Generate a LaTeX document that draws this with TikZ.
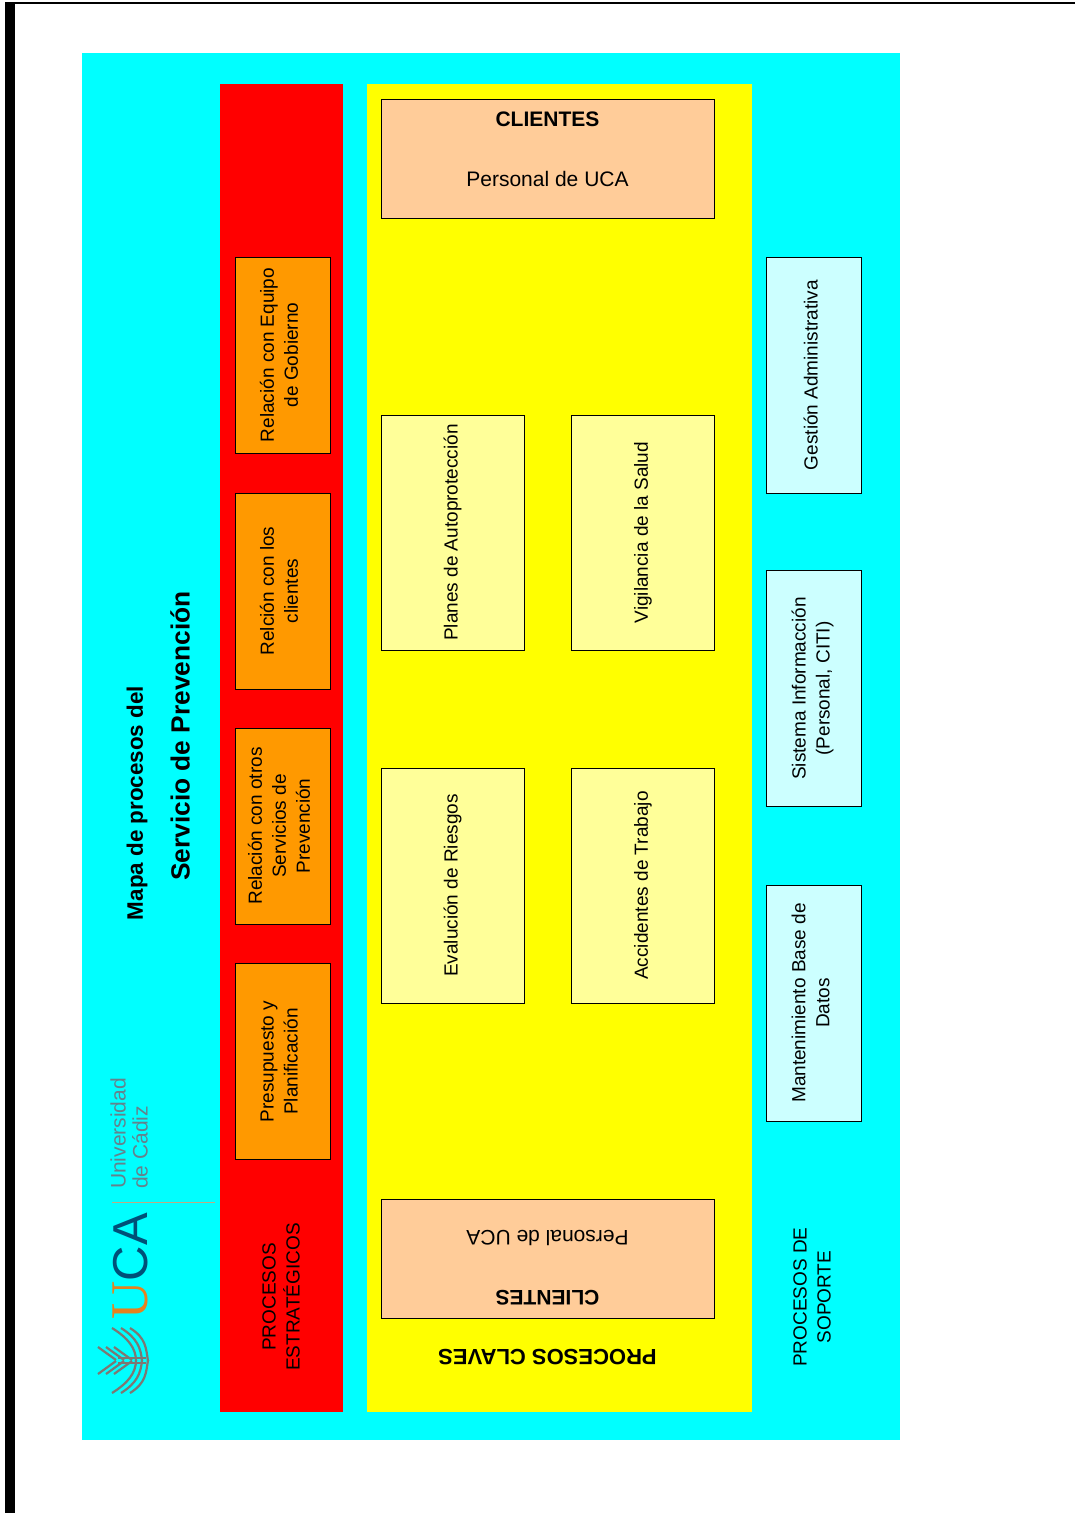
\documentclass[tikz,border=0pt]{standalone}
\usepackage{fontspec}
\setmainfont{Liberation Sans}
\newfontfamily\logoserif{Liberation Serif}
\definecolor{zonecyan}{RGB}{0,255,255}
\definecolor{zonered}{RGB}{255,0,0}
\definecolor{zoneyellow}{RGB}{255,255,0}
\definecolor{boxorange}{RGB}{255,153,0}
\definecolor{boxpeach}{RGB}{255,204,153}
\definecolor{boxyellow}{RGB}{255,255,153}
\definecolor{boxcyan}{RGB}{204,255,255}
\definecolor{logogray}{RGB}{125,120,115}
\definecolor{logoorange}{RGB}{230,130,30}
\definecolor{logoblue}{RGB}{0,80,120}
\definecolor{logotan}{RGB}{190,170,130}
\definecolor{logotext}{RGB}{100,130,140}
\tikzset{>=stealth}
\tikzset{
  procbox/.style={draw=black,line width=1pt,inner sep=0pt,align=center,font=\fontsize{19}{24}\selectfont},
  strategicbox/.style={procbox,fill=boxorange,rotate=90,minimum width=196pt,minimum height=95pt,text depth=7pt},
  keybox/.style={procbox,fill=boxyellow,rotate=90,minimum width=235pt,minimum height=143pt},
  supportbox/.style={procbox,fill=boxcyan,rotate=90,minimum width=236pt,minimum height=95pt,text depth=6pt},
  clientbox/.style={procbox,fill=boxpeach,minimum width=333pt,minimum height=119pt,text depth=18pt,font=\fontsize{21}{60}\selectfont},
  zonelabel/.style={align=center,inner sep=0pt,font=\fontsize{19}{24}\selectfont},
  logoline/.style={draw=logogray,line width=2.2pt},
}
\begin{document}
\begin{tikzpicture}[x=1pt,y=-1pt]
    \useasboundingbox (0,0) rectangle (1075,1513);
    \fill[white] (0,0) rectangle (1075,1513);
    % page edge
    \fill[black] (5,3) rectangle (15,1513);
    \draw[line width=1.4pt] (5,3)--(1075,3);
    % zones
    \fill[zonecyan] (82,53) rectangle (900,1440);
    \fill[zonered] (220,84) rectangle (343,1412);
    \fill[zoneyellow] (367,84) rectangle (752,1412);
    % title
    \node (maptitle) at (137,803) [rotate=90,inner sep=0pt,font=\fontsize{22.4}{24}\selectfont\bfseries] {Mapa de procesos del};
    \node (servicetitle) at (180,736) [rotate=90,inner sep=0pt,font=\fontsize{26.3}{28}\selectfont\bfseries] {Servicio de Prevención};
    % strategic
    \node (strategiclabel) at (281,1297) [zonelabel,rotate=90] {PROCESOS\\ESTRATÉGICOS};
    \node (gobierno) at (282.5,355) [strategicbox] {Relación con Equipo\\de Gobierno};
    \node (clientes) at (282.5,591) [strategicbox] {Relción con los\\clientes};
    \node (servicios) at (282.5,826) [strategicbox] {Relación con otros\\Servicios de\\Prevención};
    \node (presupuesto) at (282.5,1061.5) [strategicbox] {Presupuesto y\\Planificación};
    % key
    \node (clientstop) at (547.5,158.5) [clientbox] {\textbf{CLIENTES}\\Personal de UCA};
    \node (planes) at (452.5,532.5) [keybox] {Planes de Autoprotección};
    \node (vigilancia) at (643,532.5) [keybox] {Vigilancia de la Salud};
    \node (riesgos) at (452.5,885.5) [keybox] {Evalución de Riesgos};
    \node (accidentes) at (643,885.5) [keybox] {Accidentes de Trabajo};
    \node (clientsbottom) at (547.5,1259) [clientbox,rotate=180] {\textbf{CLIENTES}\\Personal de UCA};
    \node (keylabel) at (547.5,1357) [zonelabel,rotate=180,font=\fontsize{22}{24}\selectfont\bfseries] {PROCESOS CLAVES};
    % support
    \node (gestion) at (813.5,375) [supportbox] {Gestión Administrativa};
    \node (sistema) at (813.5,688.5) [supportbox] {Sistema Informacción\\(Personal, CITI)};
    \node (mantenimiento) at (813.5,1003) [supportbox] {Mantenimiento Base de\\Datos};
    \node (supportlabel) at (812,1297) [zonelabel,rotate=90] {PROCESOS DE\\SOPORTE};
    % logo
    \foreach \k in {0,1,2}{
      \draw[logoline] (112+9*\k,1328) .. controls (128+9*\k,1338) and (136+5*\k,1348) .. (136+6*\k,1361);
      \draw[logoline] (112+9*\k,1393) .. controls (128+9*\k,1383) and (136+5*\k,1373) .. (136+6*\k,1360);
      \draw[logoline] (98+8*\k,1347) -- (116+8*\k,1360);
      \draw[logoline] (98+8*\k,1374) -- (116+8*\k,1361);
    }
    \draw[logoline] (118,1358) -- (146,1358);
    \draw[logoline] (118,1363) -- (146,1363);
    \node (logoU) at (147,1300) [rotate=90,anchor=base,inner sep=0pt,text=logoorange,font=\fontsize{53}{53}\selectfont\logoserif] {U};
    \node (logoCA) at (147,1247) [rotate=90,anchor=base,inner sep=0pt,text=logoblue,font=\fontsize{49}{49}\selectfont] {CA};
    \draw[line width=1pt,draw=logotan] (112,1202)--(215,1202);
    \node (logolabel) at (129,1133.5) [rotate=90,inner sep=0pt,align=left,text=logotext,font=\fontsize{21}{22}\selectfont] {Universidad\\de Cádiz};
\end{tikzpicture}
\end{document}
